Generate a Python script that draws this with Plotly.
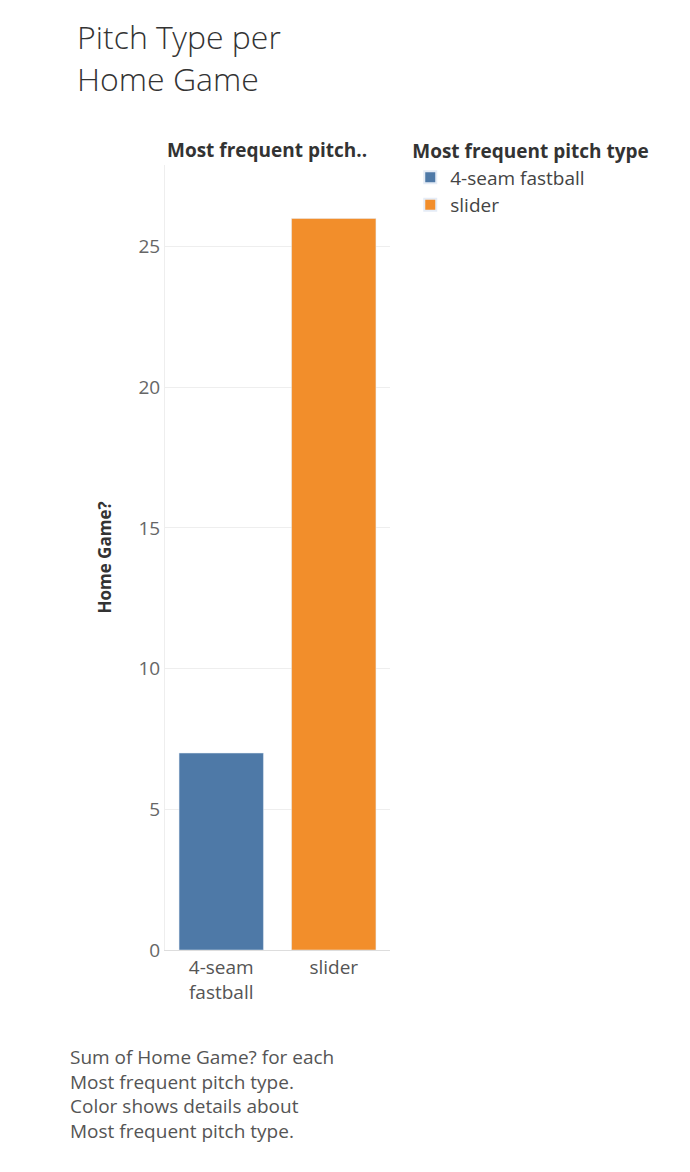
import plotly.graph_objects as go

categories = ["4-seam fastball", "slider"]
tick_labels = ["4-seam<br>fastball", "slider"]
values = [7, 26]
colors = ["#4e79a7", "#f28e2b"]

fig = go.Figure()
for c, t, v, col in zip(categories, tick_labels, values, colors):
    fig.add_trace(go.Bar(x=[t], y=[v], name=c, marker_color=col, width=0.75))

fig.update_layout(
    width=690, height=1172,
    margin=dict(l=157, r=308, t=157, b=230),
    plot_bgcolor="white", paper_bgcolor="white",
    font=dict(family="Open Sans", color="#555"),
    showlegend=True,
    legend=dict(x=1.09, y=1.04, xanchor="left", yanchor="top",
                title=dict(text="<b>Most frequent pitch type</b>", font=dict(size=19, color="#333")),
                font=dict(size=19, color="#444"), itemsizing="constant", tracegroupgap=4),
    xaxis=dict(tickfont=dict(size=19, color="#555"), showline=True, linecolor="#ddd",
               ticks="", categoryorder="array", categoryarray=tick_labels),
    yaxis=dict(range=[0, 27.9], tickvals=[0, 5, 10, 15, 20, 25], tickfont=dict(size=19, color="#666"),
               gridcolor="#eeeeee", zeroline=False, showline=True, linecolor="#eee",
               title=dict(text="<b>Home Game?</b>", font=dict(size=17, color="#333"), standoff=22)),
)
fig.add_annotation(text="Pitch Type per<br>Home Game", xref="paper", yref="paper",
                   x=-90/225, y=1.0 + 152/785, xanchor="left", yanchor="top", showarrow=False,
                   align="left", font=dict(size=32, color="#333", family="Open Sans Light, Open Sans"))
fig.add_annotation(text="<b>Most frequent pitch..</b>", xref="paper", yref="paper",
                   x=0.0, y=1.0, xanchor="left", yanchor="bottom", showarrow=False,
                   font=dict(size=19, color="#333"))
fig.add_annotation(text="Sum of Home Game? for each<br>Most frequent pitch type.<br>Color shows details about<br>Most frequent pitch type.",
                   xref="paper", yref="paper", x=-97/225, y=-92/785, xanchor="left", yanchor="top",
                   showarrow=False, align="left", font=dict(size=19, color="#555"))
fig.write_html("out.html")
